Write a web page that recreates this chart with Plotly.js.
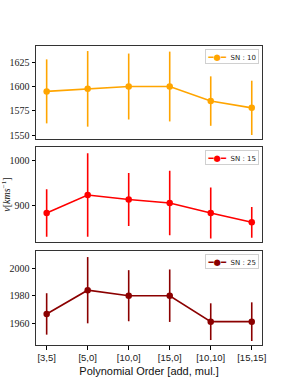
<!DOCTYPE html>
<html><head><meta charset="utf-8">
<script src="https://cdn.plot.ly/plotly-3.0.1.min.js"></script>
<style>html,body{margin:0;padding:0;background:#fff}#c{width:291px;height:388px}</style>
</head><body><div id="c"></div>
<script>
const categories = ["[3,5]","[5,0]","[10,0]","[15,0]","[10,10]","[15,15]"];
const sn10 = [1595, 1597.6, 1600, 1600, 1585, 1578];
const sn10err = [33, 39, 34, 36, 25.5, 28];
const sn15 = [884, 924, 914, 906, 884, 863];
const sn15err = [53, 93, 59, 72, 57, 34.5];
const sn25 = [1966.8, 1984, 1980, 1980, 1961.2, 1961.2];
const sn25err = [15, 24, 18.5, 19, 13.3, 14];
const names = ["SN : 10", "SN : 15", "SN : 25"];
const colors = ["#FFA500", "#FF0000", "#8B0000"];
const xs = categories.map((c,i)=>i);

function tr(y, e, k){
  const ax = k===0 ? '' : String(k+1);
  return {x: xs, y: y, type:'scatter', mode:'lines+markers', name: names[k],
    xaxis: 'x'+ax, yaxis: 'y'+ax, showlegend:false,
    line:{color:colors[k], width:1.6}, marker:{color:colors[k], size:6.5},
    error_y:{type:'data', array:e, visible:true, color:colors[k], thickness:1.6, width:0}};
}
const data = [tr(sn10,sn10err,0), tr(sn15,sn15err,1), tr(sn25,sn25err,2)];

const serif = "Liberation Serif, DejaVu Serif, serif";
const sans = "Liberation Sans, Arial, sans-serif";
function xax(show, anchor){
  return {range:[-0.26,5.25], tickvals: xs, ticktext: categories, showticklabels: show,
    ticks: show ? 'outside' : '', ticklen:3.5, tickcolor:'#000', anchor: anchor,
    showgrid:false, zeroline:false, showline:true, mirror:true, linecolor:'#333', linewidth:1,
    tickfont:{family:sans, size:9.5, color:'#222'}};
}
function yax(range, ticks, domain, anchor){
  return {range: range, tickvals: ticks, domain: domain, anchor: anchor,
    ticks:'outside', ticklen:3.5, tickcolor:'#000', showgrid:false, zeroline:false,
    showline:true, mirror:true, linecolor:'#333', linewidth:1,
    tickfont:{family:serif, size:10, color:'#222'}};
}
function legAnn(k){
  const ax = k===0 ? '' : String(k+1);
  return {xref:'x'+ax+' domain', yref:'y'+ax+' domain', x:0.985, y:0.965,
    xanchor:'right', yanchor:'top', showarrow:false,
    text:'<span style="color:'+colors[k]+';font-size:8.5px">━●━</span>  ' + names[k],
    font:{family:"DejaVu Sans, sans-serif", size:7, color:'#222'},
    bgcolor:'#fff', bordercolor:'#d0d0d0', borderwidth:1, borderpad:1.5};
}
const layout = {
  width:291, height:388, margin:{l:36, r:29, t:46, b:43},
  paper_bgcolor:'#fff', plot_bgcolor:'#fff', showlegend:false,
  xaxis: xax(false,'y'), xaxis2: xax(false,'y2'),
  xaxis3: Object.assign(xax(true,'y3'), {title:{text:'Polynomial Order [add, mul.]', font:{family:sans, size:11, color:'#111'}, standoff:5}}),
  yaxis: yax([1545.9,1641.8],[1550,1575,1600,1625],[0.689,1],'x'),
  yaxis2: Object.assign(yax([818.8,1031],[900,1000],[0.344,0.662],'x2'),
    {title:{text:'<i>v</i>[<i>kms</i><sup>−1</sup>]', font:{family:serif, size:10, color:'#222'}, standoff:3}}),
  yaxis3: yax([1944.3,2012.3],[1960,1980,2000],[0,0.314],'x3'),
  annotations: [legAnn(0), legAnn(1), legAnn(2)]
};
Plotly.newPlot('c', data, layout, {staticPlot:true, displayModeBar:false});
</script></body></html>
